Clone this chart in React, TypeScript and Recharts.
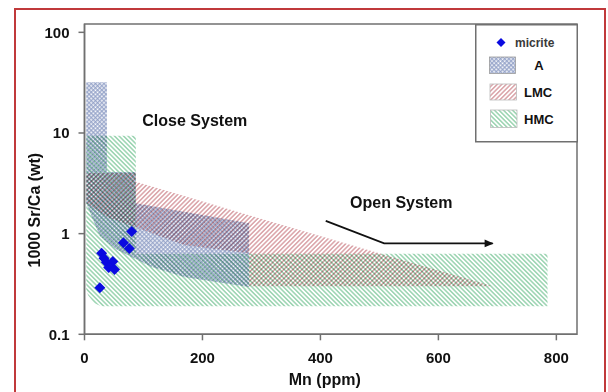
import React from 'react';
import {
  ComposedChart,
  Area,
  Scatter,
  Line,
  XAxis,
  YAxis,
  ReferenceArea,
  ReferenceDot,
  Legend,
  Label,
} from 'recharts';

// ---- Field A (aragonite): Mn (ppm) and the [low, high] 1000 Sr/Ca envelope
const aMn = [3, 26, 38, 38, 55, 87, 87, 113, 169, 279];
const aLow = [2.0, 0.95, 0.82, 0.82, 0.69, 0.56, 0.56, 0.47, 0.37, 0.295];
const aHigh = [32, 32, 32, 4.1, 4.1, 4.1, 2.0, 1.88, 1.65, 1.27];

// ---- Field LMC
const lmcMn = [3, 40, 87, 87, 169, 279, 279, 692];
const lmcLow = [2.0, 1.45, 1.16, 1.16, 0.77, 0.64, 0.3, 0.3];
const lmcHigh = [4.0, 4.0, 4.0, 3.27, 2.36, 1.52, 1.52, 0.3];

// ---- Field HMC
const hmcMn = [3, 6, 16, 28, 87, 87, 785];
const hmcLow = [0.28, 0.245, 0.205, 0.19, 0.19, 0.19, 0.19];
const hmcHigh = [9.4, 9.4, 9.4, 9.4, 9.4, 0.63, 0.63];

// ---- micrite samples
const micriteMn = [80, 66, 76, 29, 33, 37, 48, 41, 51, 26];
const micriteSrCa = [1.05, 0.81, 0.71, 0.64, 0.57, 0.52, 0.53, 0.46, 0.44, 0.29];

// ---- open-system trend arrow
const arrowMn = [409, 508, 692];
const arrowSrCa = [1.34, 0.8, 0.8];

// ---- annotations
const noteText = ['Close System', 'Open System'];
const noteMn = [187, 537];
const noteSrCa = [13.4, 2.07];

// ---- axes
const xTicks = [0, 200, 400, 600, 800];
const yTicks = [0.1, 1, 10, 100];
const xDomain = [0, 835];
const yDomain = [0.1, 121];

const aData = aMn.map((x, i) => ({ x, r: [aLow[i], aHigh[i]] }));
const lmcData = lmcMn.map((x, i) => ({ x, r: [lmcLow[i], lmcHigh[i]] }));
const hmcData = hmcMn.map((x, i) => ({ x, r: [hmcLow[i], hmcHigh[i]] }));
const micriteData = micriteMn.map((x, i) => ({ x, y: micriteSrCa[i] }));
const arrowData = arrowMn.map((x, i) => ({ x, y: arrowSrCa[i] }));

const FONT = '"Liberation Sans", Arial, Helvetica, sans-serif';
const AXIS = '#707070';

const Diamond = (p: any) => {
  const { cx, cy } = p;
  const h = 5.5;
  return (
    <path
      d={`M${cx},${cy - h}L${cx + h},${cy}L${cx},${cy + h}L${cx - h},${cy}Z`}
      fill="#0a0ae0"
    />
  );
};

const ArrowDot = (p: any) => {
  if (p.index !== arrowMn.length - 1) return <g key={`ad${p.index}`} />;
  const { cx, cy } = p;
  return (
    <path
      key="arrowhead"
      d={`M${cx + 1},${cy}L${cx - 8},${cy - 3.8}L${cx - 8},${cy + 3.8}Z`}
      fill="#111"
    />
  );
};

const LegendBox = () => (
  <svg width={103} height={119} style={{ display: 'block', fontFamily: FONT }}>
    <rect x={0.75} y={0.75} width={101.5} height={117} fill="#fff" stroke={AXIS} strokeWidth={1.5} />
    <path d="M26,14L30.5,18.5L26,23L21.5,18.5Z" fill="#0a0ae0" />
    <text x={40} y={19} dominantBaseline="central" fontSize={12} fontWeight="bold" fill="#3a3a3a">
      micrite
    </text>
    <rect x={14.5} y={33} width={26} height={16.5} fill="url(#patA)" stroke="#999" strokeWidth={0.8} />
    <text x={64} y={41} textAnchor="middle" dominantBaseline="central" fontSize={13} fontWeight="bold" fill="#111">
      A
    </text>
    <rect x={15} y={60} width={26.5} height={16} fill="url(#patLMC)" stroke="#bbb" strokeWidth={0.8} />
    <text x={49} y={68} dominantBaseline="central" fontSize={13} fontWeight="bold" fill="#111">
      LMC
    </text>
    <rect x={15.5} y={86} width={26.5} height={17.5} fill="url(#patHMC)" stroke="#bbb" strokeWidth={0.8} />
    <text x={49} y={95} dominantBaseline="central" fontSize={13} fontWeight="bold" fill="#111">
      HMC
    </text>
  </svg>
);

export default function App() {
  return (
    <div
      style={{
        position: 'absolute',
        left: 0,
        top: 0,
        width: 608,
        height: 392,
        background: '#fff',
        overflow: 'hidden',
        fontFamily: FONT,
      }}
    >
      <style>{`.blend { mix-blend-mode: multiply; }`}</style>
      <svg width={0} height={0} style={{ position: 'absolute' }}>
        <defs>
          <pattern id="patHMC" width={3.2} height={3.2} patternUnits="userSpaceOnUse" patternTransform="rotate(-45)">
            <rect width={3.2} height={3.2} fill="#fff" />
            <line x1={0.8} y1={0} x2={0.8} y2={3.2} stroke="#93d0ab" strokeWidth={1.4} />
          </pattern>
          <pattern id="patLMC" width={3.2} height={3.2} patternUnits="userSpaceOnUse" patternTransform="rotate(45)">
            <rect width={3.2} height={3.2} fill="#fff" />
            <line x1={0.8} y1={0} x2={0.8} y2={3.2} stroke="#d79ca2" strokeWidth={1.4} />
          </pattern>
          <pattern id="patA" width={3} height={3} patternUnits="userSpaceOnUse" patternTransform="rotate(45)">
            <rect width={3} height={3} fill="#fff" />
            <line x1={0.75} y1={0} x2={0.75} y2={3} stroke="#8f9ec6" strokeWidth={1.15} />
            <line x1={0} y1={0.75} x2={3} y2={0.75} stroke="#8f9ec6" strokeWidth={1.15} />
          </pattern>
        </defs>
      </svg>
      <div
        style={{
          position: 'absolute',
          left: 14,
          top: 8,
          width: 588,
          height: 400,
          border: '2px solid #c0393b',
        }}
      />
      <div style={{ position: 'absolute', left: 0, top: 0 }}>
        <ComposedChart
          width={608}
          height={392}
          margin={{ top: 24, right: 31, bottom: 6.5, left: 0 }}
          style={{ fontFamily: FONT }}
        >
          <XAxis
            type="number"
            dataKey="x"
            domain={xDomain}
            ticks={xTicks}
            allowDataOverflow
            height={51.2}
            stroke={AXIS}
            strokeWidth={1.5}
            tickSize={6}
            tickMargin={12}
            tick={{ fill: '#111', fontSize: 15, fontWeight: 'bold' }}
          >
            <Label
              content={(props: any) => {
                const vb = props.viewBox || {};
                const cx = vb.x + vb.width / 2 - 6;
                const cy = vb.y + 45.5;
                return (
                  <text
                    x={cx}
                    y={cy}
                    textAnchor="middle"
                    dominantBaseline="central"
                    fontSize={16}
                    fontWeight="bold"
                    fill="#111"
                    fontFamily={FONT}
                  >
                    Mn (ppm)
                  </text>
                );
              }}
            />
          </XAxis>
          <YAxis
            type="number"
            dataKey="y"
            scale="log"
            domain={yDomain}
            ticks={yTicks}
            allowDataOverflow
            width={84.5}
            stroke={AXIS}
            strokeWidth={1.5}
            tickSize={6}
            tickMargin={9}
            tick={{ fill: '#111', fontSize: 15, fontWeight: 'bold' }}
          >
            <Label
              content={(props: any) => {
                const vb = props.viewBox || {};
                const cx = vb.x + 35;
                const cy = vb.y + vb.height / 2 + 31;
                return (
                  <text
                    x={cx}
                    y={cy}
                    transform={`rotate(-90, ${cx}, ${cy})`}
                    textAnchor="middle"
                    dominantBaseline="central"
                    fontSize={16}
                    fontWeight="bold"
                    fill="#111"
                    fontFamily={FONT}
                  >
                    1000 Sr/Ca (wt)
                  </text>
                );
              }}
            />
          </YAxis>

          <Area
            data={hmcData}
            dataKey="r"
            type="linear"
            className="blend"
            fill="url(#patHMC)"
            fillOpacity={1}
            stroke="none"
            dot={false}
            activeDot={false}
            legendType="none"
            isAnimationActive={false}
          />
          <Area
            data={lmcData}
            dataKey="r"
            type="linear"
            className="blend"
            fill="url(#patLMC)"
            fillOpacity={1}
            stroke="none"
            dot={false}
            activeDot={false}
            legendType="none"
            isAnimationActive={false}
          />
          <Area
            data={aData}
            dataKey="r"
            type="linear"
            className="blend"
            fill="url(#patA)"
            fillOpacity={1}
            stroke="none"
            dot={false}
            activeDot={false}
            legendType="none"
            isAnimationActive={false}
          />

          <Line
            data={arrowData}
            dataKey="y"
            type="linear"
            stroke="#111"
            strokeWidth={1.8}
            dot={ArrowDot}
            activeDot={false}
            legendType="none"
            isAnimationActive={false}
          />

          <Scatter
            data={micriteData}
            dataKey="y"
            shape={Diamond}
            legendType="none"
            isAnimationActive={false}
          />

          {noteText.map((t, i) => (
            <ReferenceDot
              key={t}
              x={noteMn[i]}
              y={noteSrCa[i]}
              r={0}
              fill="none"
              stroke="none"
              label={{
                value: t,
                position: 'center',
                fill: '#111',
                fontSize: 16,
                fontWeight: 'bold',
                fontFamily: FONT,
              }}
            />
          ))}

          <ReferenceArea
            x1={xDomain[0]}
            x2={xDomain[1]}
            y1={yDomain[0]}
            y2={yDomain[1]}
            fill="none"
            fillOpacity={0}
            stroke={AXIS}
            strokeWidth={1.5}
          />

          <Legend
            layout="vertical"
            align="center"
            verticalAlign="middle"
            content={() => <LegendBox />}
            wrapperStyle={{ left: 475, top: 24, width: 103, height: 119 }}
          />
        </ComposedChart>
      </div>
    </div>
  );
}
